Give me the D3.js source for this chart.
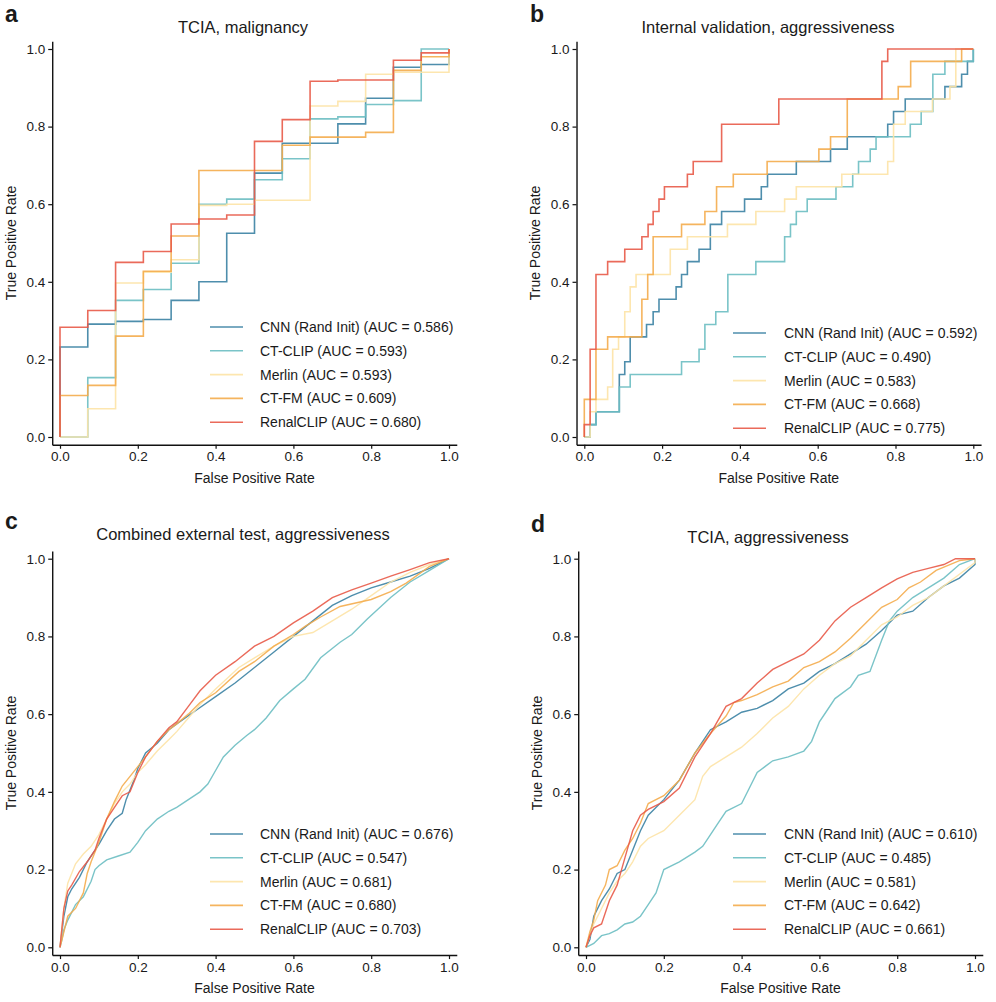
<!DOCTYPE html>
<html><head><meta charset="utf-8">
<script src="https://cdn.jsdelivr.net/npm/d3@7"></script>
<style>
body{margin:0;background:#fff;}
text{font-family:"Liberation Sans",Arial,Helvetica,sans-serif;}
</style></head>
<body><svg id="chart" width="996" height="1002"></svg>
<script>
const models = ["CNN (Rand Init)", "CT-CLIP", "Merlin", "CT-FM", "RenalCLIP"];
const modelColors = ["#3b82a3", "#6cbec2", "#fde3a6", "#f4ac4c", "#e85a48"];
const panelLetters = ["a", "b", "c", "d"];
const panelTitles = ["TCIA, malignancy", "Internal validation, aggressiveness",
  "Combined external test, aggressiveness", "TCIA, aggressiveness"];
const tickValues = [0, 0.2, 0.4, 0.6, 0.8, 1.0];

const aucA = [0.586, 0.593, 0.593, 0.609, 0.680];
const aucB = [0.592, 0.490, 0.583, 0.668, 0.775];
const aucC = [0.676, 0.547, 0.681, 0.680, 0.703];
const aucD = [0.610, 0.485, 0.581, 0.642, 0.661];

// Panel a (step ROC points: at fpr, tpr jumps to value)
const a_cnn = [[0,0],[0,0.232],[0.0714,0.291],[0.1429,0.298],[0.2143,0.303],[0.2857,0.352],[0.3571,0.400],[0.4286,0.525],[0.5,0.680],[0.5714,0.757],[0.7143,0.807],[0.7857,0.873],[0.8571,0.953],[0.9286,0.960],[1,1]];
const a_ctclip = [[0,0],[0.0714,0.153],[0.1429,0.352],[0.2143,0.380],[0.2857,0.448],[0.3571,0.600],[0.4286,0.613],[0.5,0.663],[0.5714,0.717],[0.6429,0.820],[0.7143,0.825],[0.7857,0.857],[0.8571,0.867],[0.9286,1],[1,1]];
const a_merlin = [[0,0],[0.0714,0.073],[0.1429,0.397],[0.2143,0.425],[0.2857,0.457],[0.3571,0.597],[0.4286,0.600],[0.5,0.610],[0.6429,0.853],[0.7143,0.865],[0.7857,0.935],[0.8571,0.940],[1,1]];
const a_ctfm = [[0,0],[0,0.107],[0.0714,0.133],[0.1429,0.260],[0.2143,0.427],[0.2857,0.518],[0.3571,0.687],[0.5714,0.752],[0.6429,0.773],[0.7857,0.785],[0.8571,0.945],[0.9286,0.980],[1,1]];
const a_renal = [[0,0],[0,0.283],[0.0714,0.326],[0.1429,0.450],[0.2143,0.478],[0.2857,0.549],[0.3571,0.562],[0.4286,0.572],[0.5,0.762],[0.5714,0.818],[0.6429,0.917],[0.7143,0.920],[0.8571,0.971],[0.9286,0.990],[1,1]];

// Panel b (step ROC points)
const b_cnn = [[0,0],[0.015,0.032],[0.03,0.065],[0.09,0.161],[0.104,0.194],[0.118,0.258],[0.16,0.290],[0.177,0.323],[0.192,0.355],[0.236,0.387],[0.25,0.419],[0.265,0.452],[0.295,0.484],[0.324,0.548],[0.353,0.581],[0.412,0.613],[0.455,0.645],[0.471,0.677],[0.545,0.710],[0.633,0.742],[0.676,0.774],[0.78,0.806],[0.795,0.839],[0.825,0.871],[0.927,0.903],[0.97,0.935],[0.985,0.968],[1,1]];
const b_ctclip = [[0,0],[0.015,0.032],[0.03,0.065],[0.09,0.129],[0.118,0.161],[0.25,0.194],[0.295,0.226],[0.31,0.290],[0.338,0.323],[0.369,0.419],[0.441,0.452],[0.515,0.516],[0.53,0.548],[0.545,0.581],[0.573,0.613],[0.647,0.645],[0.69,0.677],[0.705,0.710],[0.735,0.742],[0.75,0.774],[0.838,0.806],[0.866,0.839],[0.896,0.935],[0.927,0.968],[1,1]];
const b_merlin = [[0,0],[0.015,0.065],[0.03,0.097],[0.06,0.129],[0.073,0.226],[0.088,0.258],[0.104,0.323],[0.118,0.387],[0.133,0.419],[0.221,0.484],[0.265,0.516],[0.368,0.548],[0.441,0.581],[0.515,0.613],[0.545,0.645],[0.662,0.677],[0.78,0.710],[0.795,0.806],[0.825,0.839],[0.895,0.871],[0.94,0.903],[0.955,1],[1,1]];
const b_ctfm = [[0,0],[0,0.097],[0.03,0.226],[0.06,0.258],[0.148,0.355],[0.163,0.419],[0.177,0.516],[0.25,0.548],[0.31,0.581],[0.34,0.645],[0.383,0.677],[0.47,0.710],[0.603,0.742],[0.633,0.774],[0.676,0.871],[0.807,0.903],[0.839,0.968],[0.97,1],[1,1]];
const b_renal = [[0,0],[0,0.032],[0.015,0.226],[0.03,0.419],[0.06,0.452],[0.104,0.484],[0.148,0.516],[0.164,0.548],[0.177,0.581],[0.192,0.613],[0.206,0.645],[0.265,0.677],[0.28,0.710],[0.353,0.806],[0.5,0.871],[0.765,0.968],[0.78,1],[1,1]];

// Panel c (dense ROC, sampled points)
const c_cnn = [[0,0],[0.005,0.04],[0.01,0.08],[0.02,0.13],[0.03,0.15],[0.05,0.18],[0.07,0.22],[0.1,0.265],[0.12,0.3],[0.14,0.33],[0.16,0.345],[0.17,0.38],[0.19,0.43],[0.2,0.46],[0.22,0.5],[0.25,0.525],[0.28,0.56],[0.3,0.575],[0.35,0.61],[0.4,0.645],[0.45,0.68],[0.5,0.72],[0.55,0.76],[0.6,0.8],[0.65,0.84],[0.7,0.88],[0.75,0.905],[0.8,0.925],[0.85,0.94],[0.9,0.955],[0.95,0.975],[1,1]];
const c_ctclip = [[0,0],[0.005,0.02],[0.01,0.045],[0.02,0.07],[0.03,0.09],[0.04,0.11],[0.06,0.13],[0.08,0.17],[0.09,0.2],[0.1,0.21],[0.12,0.225],[0.15,0.235],[0.18,0.245],[0.2,0.27],[0.22,0.3],[0.25,0.33],[0.28,0.35],[0.3,0.36],[0.33,0.38],[0.36,0.4],[0.38,0.42],[0.4,0.455],[0.42,0.49],[0.45,0.52],[0.48,0.545],[0.5,0.56],[0.53,0.59],[0.565,0.635],[0.6,0.665],[0.63,0.69],[0.67,0.745],[0.72,0.785],[0.75,0.805],[0.79,0.845],[0.85,0.9],[0.9,0.94],[0.95,0.97],[1,1]];
const c_merlin = [[0,0],[0.005,0.05],[0.01,0.1],[0.02,0.165],[0.04,0.215],[0.06,0.24],[0.08,0.26],[0.1,0.29],[0.12,0.33],[0.14,0.37],[0.16,0.4],[0.18,0.42],[0.2,0.45],[0.22,0.47],[0.25,0.505],[0.28,0.535],[0.3,0.555],[0.33,0.59],[0.36,0.625],[0.4,0.665],[0.46,0.72],[0.5,0.745],[0.55,0.775],[0.6,0.8],[0.65,0.81],[0.7,0.84],[0.75,0.87],[0.8,0.905],[0.85,0.94],[0.9,0.965],[0.95,0.985],[1,1]];
const c_ctfm = [[0,0],[0.01,0.04],[0.02,0.08],[0.04,0.1],[0.06,0.14],[0.07,0.19],[0.08,0.22],[0.1,0.27],[0.12,0.33],[0.14,0.375],[0.16,0.415],[0.18,0.44],[0.2,0.465],[0.22,0.49],[0.25,0.53],[0.28,0.56],[0.3,0.575],[0.33,0.6],[0.36,0.63],[0.4,0.655],[0.46,0.71],[0.5,0.735],[0.55,0.775],[0.6,0.805],[0.63,0.826],[0.67,0.85],[0.72,0.877],[0.8,0.895],[0.85,0.915],[0.89,0.937],[0.95,0.98],[1,1]];
const c_renal = [[0,0],[0.005,0.05],[0.01,0.1],[0.02,0.145],[0.03,0.16],[0.05,0.195],[0.07,0.22],[0.09,0.25],[0.1,0.28],[0.12,0.33],[0.14,0.36],[0.16,0.39],[0.18,0.4],[0.2,0.45],[0.22,0.49],[0.25,0.53],[0.28,0.565],[0.3,0.58],[0.33,0.62],[0.36,0.66],[0.4,0.7],[0.45,0.735],[0.5,0.775],[0.55,0.8],[0.6,0.835],[0.65,0.865],[0.7,0.9],[0.75,0.92],[0.8,0.937],[0.85,0.955],[0.9,0.972],[0.95,0.99],[1,1]];

// Panel d (dense ROC, sampled points)
const d_cnn = [[0,0],[0.01,0.02],[0.02,0.08],[0.04,0.12],[0.06,0.15],[0.08,0.19],[0.1,0.2],[0.12,0.25],[0.14,0.3],[0.16,0.34],[0.2,0.38],[0.24,0.43],[0.28,0.5],[0.32,0.56],[0.36,0.58],[0.4,0.605],[0.44,0.615],[0.48,0.635],[0.52,0.665],[0.56,0.68],[0.6,0.71],[0.64,0.73],[0.68,0.755],[0.72,0.78],[0.76,0.815],[0.8,0.855],[0.84,0.865],[0.88,0.9],[0.92,0.93],[0.96,0.95],[1,0.985],[1,1]];
const d_ctclip = [[0,0],[0.02,0.01],[0.04,0.03],[0.06,0.035],[0.08,0.045],[0.1,0.06],[0.12,0.065],[0.14,0.08],[0.16,0.11],[0.18,0.14],[0.2,0.2],[0.24,0.22],[0.28,0.245],[0.3,0.26],[0.32,0.29],[0.34,0.32],[0.36,0.35],[0.4,0.37],[0.42,0.41],[0.44,0.45],[0.46,0.465],[0.48,0.48],[0.52,0.49],[0.56,0.505],[0.58,0.53],[0.6,0.58],[0.62,0.61],[0.64,0.64],[0.68,0.67],[0.7,0.7],[0.73,0.71],[0.76,0.79],[0.78,0.84],[0.8,0.865],[0.84,0.9],[0.88,0.925],[0.92,0.95],[0.96,0.985],[1,1]];
const d_merlin = [[0,0],[0.01,0.03],[0.02,0.06],[0.04,0.1],[0.06,0.14],[0.08,0.17],[0.1,0.19],[0.12,0.22],[0.14,0.26],[0.16,0.28],[0.2,0.3],[0.24,0.34],[0.28,0.38],[0.3,0.44],[0.32,0.465],[0.36,0.49],[0.4,0.515],[0.44,0.55],[0.48,0.59],[0.52,0.62],[0.56,0.665],[0.6,0.7],[0.64,0.73],[0.68,0.75],[0.72,0.79],[0.76,0.83],[0.8,0.85],[0.84,0.88],[0.88,0.9],[0.92,0.93],[0.96,0.96],[1,0.99],[1,1]];
const d_ctfm = [[0,0],[0.01,0.04],[0.02,0.07],[0.03,0.12],[0.05,0.16],[0.06,0.2],[0.08,0.21],[0.1,0.25],[0.12,0.28],[0.14,0.32],[0.16,0.37],[0.2,0.39],[0.24,0.43],[0.28,0.5],[0.32,0.55],[0.36,0.595],[0.38,0.63],[0.4,0.635],[0.44,0.65],[0.48,0.67],[0.52,0.685],[0.56,0.72],[0.6,0.735],[0.64,0.76],[0.68,0.795],[0.72,0.835],[0.76,0.875],[0.8,0.895],[0.83,0.925],[0.86,0.94],[0.9,0.97],[0.96,0.995],[1,1]];
const d_renal = [[0,0],[0.01,0.03],[0.02,0.05],[0.04,0.06],[0.06,0.12],[0.08,0.16],[0.1,0.23],[0.12,0.3],[0.14,0.34],[0.16,0.355],[0.2,0.375],[0.24,0.41],[0.28,0.49],[0.32,0.55],[0.36,0.62],[0.4,0.64],[0.44,0.68],[0.48,0.715],[0.52,0.735],[0.56,0.755],[0.6,0.79],[0.64,0.84],[0.68,0.875],[0.72,0.9],[0.76,0.925],[0.8,0.948],[0.84,0.965],[0.88,0.975],[0.92,0.985],[0.95,1],[1,1]];

const panels = [
  {curves:[a_cnn,a_ctclip,a_merlin,a_ctfm,a_renal], auc:aucA, step:true,
   x0:60, x1:449, y0:437, y1:49, letter:[5,22], title:[243,33], legend:[210,260,327], ytitle:11},
  {curves:[b_cnn,b_ctclip,b_merlin,b_ctfm,b_renal], auc:aucB, step:true,
   x0:584.3, x1:973.3, y0:437, y1:49, letter:[530,22], title:[768,33], legend:[733,784,333], ytitle:535},
  {curves:[c_cnn,c_ctclip,c_merlin,c_ctfm,c_renal], auc:aucC, step:false,
   x0:60, x1:449, y0:947.3, y1:558.7, letter:[5,529], title:[243,540], legend:[210,260,834], ytitle:11},
  {curves:[d_cnn,d_ctclip,d_merlin,d_ctfm,d_renal], auc:aucD, step:false,
   x0:586, x1:975, y0:947.3, y1:558.7, letter:[531,532], title:[768,543], legend:[733,784,834], ytitle:537}
];

const svg = d3.select("#chart");
const fmt = d3.format(".1f");

panels.forEach((p, i) => {
  const pad = 0.02;
  const w = p.x1 - p.x0, h = p.y0 - p.y1;
  const x = d3.scaleLinear().domain([-pad, 1 + pad]).range([p.x0 - pad * w, p.x1 + pad * w]);
  const y = d3.scaleLinear().domain([-pad, 1 + pad]).range([p.y0 + pad * h, p.y1 - pad * h]);
  const g = svg.append("g");

  // axes
  const xa = g.append("g").attr("transform", `translate(0,${y(-pad)})`)
    .call(d3.axisBottom(x).tickValues(tickValues).tickFormat(fmt).tickSize(4).tickSizeOuter(0).tickPadding(3));
  const ya = g.append("g").attr("transform", `translate(${x(-pad)},0)`)
    .call(d3.axisLeft(y).tickValues(tickValues).tickFormat(fmt).tickSize(4).tickSizeOuter(0).tickPadding(3));
  [xa, ya].forEach(a => {
    a.select(".domain").attr("stroke", "#111").attr("stroke-width", 1.4);
    a.selectAll(".tick line").attr("stroke", "#111").attr("stroke-width", 1.2);
    a.selectAll(".tick text").attr("fill", "#1a1a1a").style("font-size", "13.5px")
      .style("font-family", '"Liberation Sans",Arial,sans-serif');
  });

  // curves
  const line = d3.line().x(d => x(d[0])).y(d => y(d[1]))
    .curve(p.step ? d3.curveStepAfter : d3.curveLinear);
  p.curves.forEach((c, k) => {
    g.append("path").datum(c).attr("d", line)
      .attr("fill", "none").attr("stroke", modelColors[k])
      .attr("stroke-width", p.step ? 1.6 : 1.4).attr("stroke-opacity", 0.9)
      .attr("stroke-linejoin", "miter");
  });

  // titles
  g.append("text").attr("x", p.letter[0]).attr("y", p.letter[1])
    .style("font-size", "23px").style("font-weight", "bold").attr("fill", "#1a1a1a").text(panelLetters[i]);
  g.append("text").attr("x", p.title[0]).attr("y", p.title[1]).attr("text-anchor", "middle")
    .style("font-size", "16.5px").attr("fill", "#1a1a1a").text(panelTitles[i]);
  g.append("text").attr("x", (p.x0 + p.x1) / 2).attr("y", p.y0 + 46).attr("text-anchor", "middle")
    .style("font-size", "14px").attr("fill", "#1a1a1a").text("False Positive Rate");
  g.append("text").attr("transform", `translate(${p.ytitle + 5},${(p.y0 + p.y1) / 2}) rotate(-90)`)
    .attr("text-anchor", "middle").style("font-size", "14px").attr("fill", "#1a1a1a").text("True Positive Rate");

  // legend
  const [lx, tx, ly] = p.legend;
  models.forEach((m, k) => {
    const yy = ly + k * 23.8;
    g.append("line").attr("x1", lx).attr("x2", lx + 33).attr("y1", yy).attr("y2", yy)
      .attr("stroke", modelColors[k]).attr("stroke-width", 1.6).attr("stroke-opacity", 0.9);
    g.append("text").attr("x", tx).attr("y", yy + 5).style("font-size", "14px").attr("fill", "#1a1a1a")
      .text(`${m} (AUC = ${p.auc[k].toFixed(3)})`);
  });
});
</script>
</body></html>
